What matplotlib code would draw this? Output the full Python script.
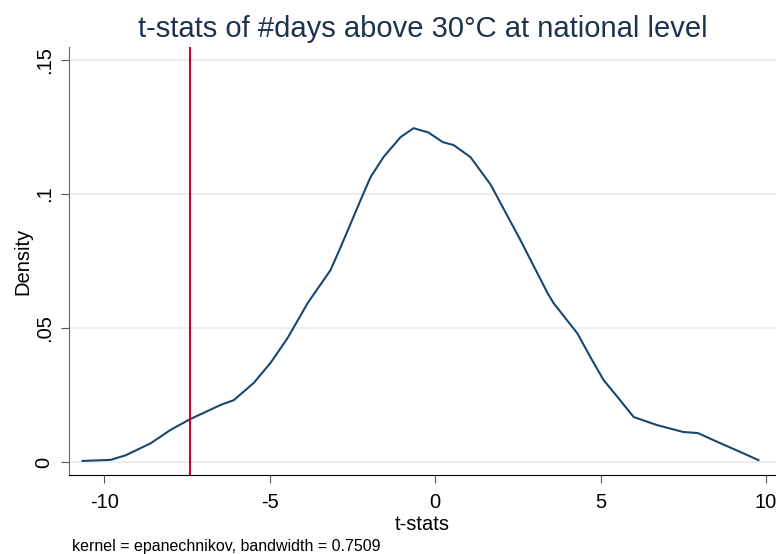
import numpy as np
import matplotlib.pyplot as plt

plt.rcParams['font.family'] = ['Liberation Sans', 'DejaVu Sans']
plt.rcParams['axes.unicode_minus'] = False

# kernel density of t-stats
tstat = [-10.65, -9.8, -9.35, -8.59, -7.99, -7.40, -6.48, -6.08, -5.48, -4.97, -4.46,
         -3.85, -3.16, -2.86, -2.55, -2.25, -1.95, -1.56, -1.04, -0.65, -0.2, 0.23,
         0.56, 1.07, 1.68, 2.58, 3.40, 3.58, 4.30, 4.70, 5.09, 5.51, 6.0, 6.7, 7.5, 7.94,
         8.53, 9.23, 9.77]
density = [0.0004, 0.0008, 0.0025, 0.007, 0.012, 0.016, 0.0213, 0.0231, 0.0295, 0.037, 0.0462,
           0.0593, 0.0716, 0.080, 0.089, 0.0978, 0.1063, 0.1138, 0.1213, 0.1246, 0.123, 0.1194,
           0.1183, 0.1138, 0.1035, 0.0828, 0.063, 0.0593, 0.048, 0.039, 0.0306, 0.0243, 0.0168, 0.0138,
           0.0112, 0.0108, 0.0075, 0.0037, 0.0007]
cutoff = -7.40

xticks = [-10, -5, 0, 5, 10]
yticks = [0, 0.05, 0.1, 0.15]
yticklabels = ["0", ".05", ".1", ".15"]

fig = plt.figure(figsize=(7.76, 5.54), dpi=100)
ax = fig.add_axes([69 / 776, 1 - 475 / 554, (776 - 69) / 776, (475 - 47) / 554])

ax.plot(tstat, density, color="#1a476f", lw=1.5)
ax.axvline(cutoff, color="#c10534", lw=1.5)

ax.set_xlim(-11.06, 10.3)
ax.set_ylim(-0.00485, 0.1549)
ax.set_xticks(xticks)
ax.set_yticks(yticks)
ax.set_yticklabels(yticklabels, rotation=90, va="center")
ax.tick_params(labelsize=14.5, length=6, color="#555555", pad=7)
ax.tick_params(axis="y", pad=5)
ax.grid(axis="y", color="#eaeaea", lw=1.2)
ax.set_axisbelow(True)

for s in ["top", "right"]:
    ax.spines[s].set_visible(False)
ax.spines["left"].set_color("#666666")
ax.spines["bottom"].set_color("black")

ax.set_xlabel("t-stats", fontsize=14.5, labelpad=2)
ax.set_ylabel("Density", fontsize=14.5, labelpad=2)
ax.set_title("t-stats of #days above 30°C at national level", fontsize=21,
             color="#1e3250", pad=7)
fig.text(72 / 776, 1 - 546 / 554, "kernel = epanechnikov, bandwidth = 0.7509",
         fontsize=11.5, va="center")

fig.savefig("out.png", dpi=100)
